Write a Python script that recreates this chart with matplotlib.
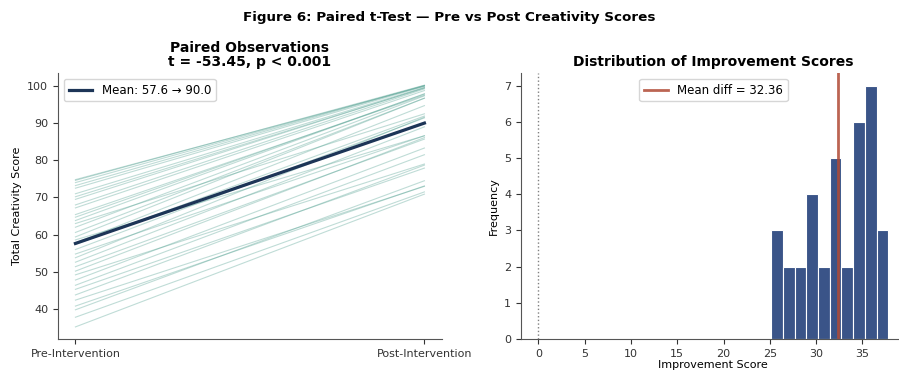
import matplotlib.pyplot as plt
import numpy as np

# Creativity scores for each participant, before and after the intervention
pre_scores = [74.8, 74.6, 74.0, 73.2, 72.5, 71.0, 70.2, 69.5, 68.0, 67.2,
              65.4, 64.7, 63.8, 63.0, 62.0, 60.6, 59.4, 58.6, 57.8, 57.4,
              56.0, 54.8, 53.8, 52.6, 51.4, 50.2, 49.2, 47.8, 46.4, 45.3,
              43.8, 42.4, 40.8, 39.8, 37.8, 35.2]
improvement = [25.15, 25.6, 26.1, 26.9, 27.4, 28.6, 29.2, 30.0, 31.2, 31.55,
               32.1, 33.1, 34.1, 29.5, 35.32, 36.1, 37.3, 28.0, 36.9, 34.5,
               35.4, 31.8, 37.8, 36.4, 34.3, 35.9, 29.8, 35.5, 35.1, 32.6,
               34.9, 30.6, 32.3, 34.7, 33.7, 35.7]
conditions = ['Pre-Intervention', 'Post-Intervention']
stats_text = 't = -53.45, p < 0.001'

pre = np.array(pre_scores)
diff = np.array(improvement)
post = pre + diff

line_color = '#4a9c8c'
mean_color = '#1d3557'
bar_color = '#3a5488'
diff_color = '#b04a35'

fig = plt.figure(figsize=(8.99, 3.74), dpi=100)
ax1 = fig.add_axes([0.0645, 0.0936, 0.427, 0.711])
ax2 = fig.add_axes([0.5795, 0.0936, 0.428, 0.711])

fig.suptitle('Figure 6: Paired t-Test \u2014 Pre vs Post Creativity Scores',
             fontsize=9.7, fontweight='bold', y=0.953, va='center')

# Left: one line per participant plus the group mean
x = [0, 1]
for p, q in zip(pre, post):
    ax1.plot(x, [p, q], color=line_color, alpha=0.35, linewidth=0.8)
ax1.plot(x, [pre.mean(), post.mean()], color=mean_color, linewidth=2.3,
         label=f'Mean: {pre.mean():.1f} \u2192 {post.mean():.1f}')
ax1.set_xticks(x)
ax1.set_xticklabels(conditions)
ax1.set_ylabel('Total Creativity Score', fontsize=8)
ax1.set_title(f'Paired Observations\n{stats_text}', fontsize=10,
              fontweight='bold', linespacing=1.05, pad=5)
ax1.legend(loc='upper left', fontsize=8.5, framealpha=0.8)

# Right: histogram of the change scores
ax2.hist(diff, bins=10, color=bar_color, edgecolor='white', linewidth=0.8)
ax2.axvline(diff.mean(), color=diff_color, linewidth=2, alpha=0.85,
            label=f'Mean diff = {diff.mean():.2f}')
ax2.axvline(0, color='gray', linestyle=':', linewidth=1)
ax2.set_xlabel('Improvement Score', fontsize=8, labelpad=1)
ax2.set_ylabel('Frequency', fontsize=8)
ax2.set_title('Distribution of Improvement Scores', fontsize=10,
              fontweight='bold', pad=5)
ax2.legend(loc='upper center', fontsize=8.5, framealpha=0.8)

for ax in (ax1, ax2):
    ax.spines['top'].set_visible(False)
    ax.spines['right'].set_visible(False)
    ax.tick_params(labelsize=8, colors='#333333')
    for s in ('left', 'bottom'):
        ax.spines[s].set_color('#555555')

plt.savefig('out.png', dpi=100)
plt.close()
